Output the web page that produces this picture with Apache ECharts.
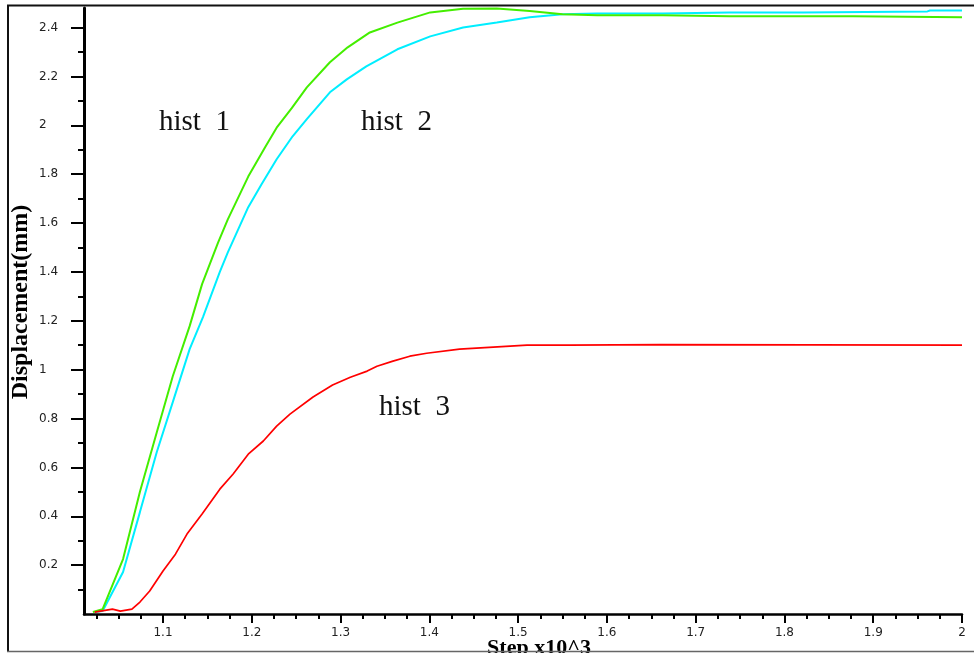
<!DOCTYPE html>
<html lang="en">
  <head>
    <meta charset="UTF-8" />
    <title>Displacement history</title>
    <script src="https://cdn.jsdelivr.net/npm/echarts@6/dist/echarts.min.js"></script>
    <style>
      html, body { margin: 0; padding: 0; background: #fff; }
    </style>
  </head>
  <body>
    <div id="main" style="width: 974px; height: 653px"></div>
    <script type="text/javascript">
      // step (x10^3) and displacement (mm)
      const hist1Step = [1.021, 1.032, 1.055, 1.074, 1.093, 1.111, 1.130, 1.144, 1.162, 1.173, 1.196, 1.215, 1.228, 1.245, 1.262, 1.288, 1.308, 1.333, 1.364, 1.401, 1.438, 1.476, 1.513, 1.550, 1.589, 1.663, 1.738, 1.877, 2.0];
      const hist1Disp = [0.008, 0.02, 0.225, 0.50, 0.744, 0.973, 1.178, 1.35, 1.52, 1.615, 1.79, 1.91, 1.99, 2.07, 2.155, 2.258, 2.319, 2.38, 2.42, 2.462, 2.477, 2.478, 2.468, 2.454, 2.45, 2.45, 2.446, 2.446, 2.442];

      const hist2Step = [1.023, 1.032, 1.055, 1.074, 1.093, 1.111, 1.130, 1.145, 1.164, 1.173, 1.196, 1.211, 1.228, 1.246, 1.262, 1.288, 1.307, 1.329, 1.364, 1.401, 1.438, 1.476, 1.513, 1.550, 1.589, 1.663, 1.738, 1.821, 1.823, 1.961, 1.964, 2.0];
      const hist2Disp = [0.008, 0.012, 0.172, 0.417, 0.663, 0.867, 1.084, 1.215, 1.40, 1.48, 1.665, 1.759, 1.861, 1.955, 2.025, 2.135, 2.188, 2.241, 2.311, 2.364, 2.40, 2.421, 2.442, 2.454, 2.458, 2.458, 2.462, 2.462, 2.466, 2.466, 2.47, 2.47];

      const hist3Step = [1.023, 1.043, 1.052, 1.065, 1.074, 1.085, 1.100, 1.114, 1.127, 1.144, 1.164, 1.179, 1.196, 1.213, 1.228, 1.243, 1.269, 1.291, 1.311, 1.330, 1.341, 1.359, 1.378, 1.397, 1.434, 1.472, 1.510, 1.558, 1.660, 2.0];
      const hist3Disp = [0.008, 0.02, 0.012, 0.02, 0.049, 0.094, 0.176, 0.245, 0.327, 0.409, 0.511, 0.573, 0.654, 0.708, 0.769, 0.818, 0.888, 0.937, 0.969, 0.994, 1.014, 1.035, 1.055, 1.067, 1.084, 1.092, 1.10, 1.10, 1.102, 1.10];

      const xTickLabels = [1.1, 1.2, 1.3, 1.4, 1.5, 1.6, 1.7, 1.8, 1.9, 2];
      const yTickLabels = [0.2, 0.4, 0.6, 0.8, 1, 1.2, 1.4, 1.6, 1.8, 2, 2.2, 2.4];

      // minor ticks: every 0.025 on x, every 0.1 on y
      const xMinor = [];
      for (let i = 41; i <= 80; i++) xMinor.push(i * 0.025);
      const yMinor = [];
      for (let i = 1; i <= 24; i++) yMinor.push(i * 0.1);

      const pairs = (xs, ys) => xs.map((x, i) => [x, ys[i]]);

      const xMin = 1.011, xMax = 2.0;
      const yMin = 0, yMax = 2.48;

      const labelFont = { fontFamily: "DejaVu Sans", fontSize: 12, color: "#222" };

      let myChart = echarts.init(document.getElementById("main"), null, { renderer: "canvas" });

      let options = {
        animation: false,
        backgroundColor: "#fff",
        grid: { left: 84, right: 12, top: 8, bottom: 39, outerBoundsMode: "none" },
        xAxis: [
          {
            type: "value", min: xMin, max: xMax,
            axisLine: { show: true, onZero: false, lineStyle: { color: "#000", width: 2.5 } },
            axisTick: { show: true, customValues: xTickLabels, length: 9, lineStyle: { color: "#000", width: 2 } },
            axisLabel: Object.assign({ customValues: xTickLabels, margin: 13, formatter: (v) => String(+v.toFixed(2)) }, labelFont),
            splitLine: { show: false }
          },
          {
            type: "value", min: xMin, max: xMax, position: "bottom",
            axisLine: { show: false },
            axisTick: { show: true, customValues: xMinor, length: 5, lineStyle: { color: "#000", width: 2 } },
            axisLabel: { show: false },
            splitLine: { show: false }
          }
        ],
        yAxis: [
          {
            type: "value", min: yMin, max: yMax,
            axisLine: { show: true, onZero: false, lineStyle: { color: "#000", width: 3 } },
            axisTick: { show: true, customValues: yTickLabels, length: 13, lineStyle: { color: "#000", width: 2 } },
            axisLabel: Object.assign({ customValues: yTickLabels, margin: 45, align: "left", formatter: (v) => String(+v.toFixed(2)) }, labelFont),
            splitLine: { show: false }
          },
          {
            type: "value", min: yMin, max: yMax, position: "left",
            axisLine: { show: false },
            axisTick: { show: true, customValues: yMinor, length: 6, lineStyle: { color: "#000", width: 2 } },
            axisLabel: { show: false },
            splitLine: { show: false }
          }
        ],
        series: [
          {
            name: "hist 2", type: "line", showSymbol: false, data: pairs(hist2Step, hist2Disp),
            lineStyle: { color: "#00eeff", width: 2 }, itemStyle: { color: "#00eeff" }
          },
          {
            name: "hist 1", type: "line", showSymbol: false, data: pairs(hist1Step, hist1Disp),
            lineStyle: { color: "#44ee00", width: 2 }, itemStyle: { color: "#44ee00" }
          },
          {
            name: "hist 3", type: "line", showSymbol: false, data: pairs(hist3Step, hist3Disp),
            lineStyle: { color: "#ff0000", width: 1.7 }, itemStyle: { color: "#ff0000" }
          }
        ],
        graphic: [
          // outer frame (top, left, bottom)
          { type: "line", z: 100, shape: { x1: 7, y1: 5.5, x2: 974, y2: 5.5 }, style: { stroke: "#111", lineWidth: 2 } },
          { type: "line", z: 100, shape: { x1: 8, y1: 5, x2: 8, y2: 652 }, style: { stroke: "#111", lineWidth: 2 } },
          { type: "line", z: 100, shape: { x1: 7, y1: 651.5, x2: 974, y2: 651.5 }, style: { stroke: "#666", lineWidth: 1.5 } },
          // curve labels
          { type: "text", x: 159, y: 122, style: { text: "hist  1", font: "29px 'Liberation Serif'", fill: "#111", textVerticalAlign: "middle" } },
          { type: "text", x: 361, y: 122, style: { text: "hist  2", font: "29px 'Liberation Serif'", fill: "#111", textVerticalAlign: "middle" } },
          { type: "text", x: 379, y: 407, style: { text: "hist  3", font: "29px 'Liberation Serif'", fill: "#111", textVerticalAlign: "middle" } },
          // axis titles
          { type: "text", x: 21, y: 302, rotation: Math.PI / 2, style: { text: "Displacement(mm)", font: "bold 24px 'Liberation Serif'", fill: "#000", textAlign: "center", textVerticalAlign: "middle" } },
          { type: "text", x: 539, y: 637, style: { text: "Step x10^3", font: "bold 22px 'Liberation Serif'", fill: "#000", textAlign: "center", textVerticalAlign: "top" } }
        ]
      };

      myChart.setOption(options);
    </script>
  </body>
</html>
